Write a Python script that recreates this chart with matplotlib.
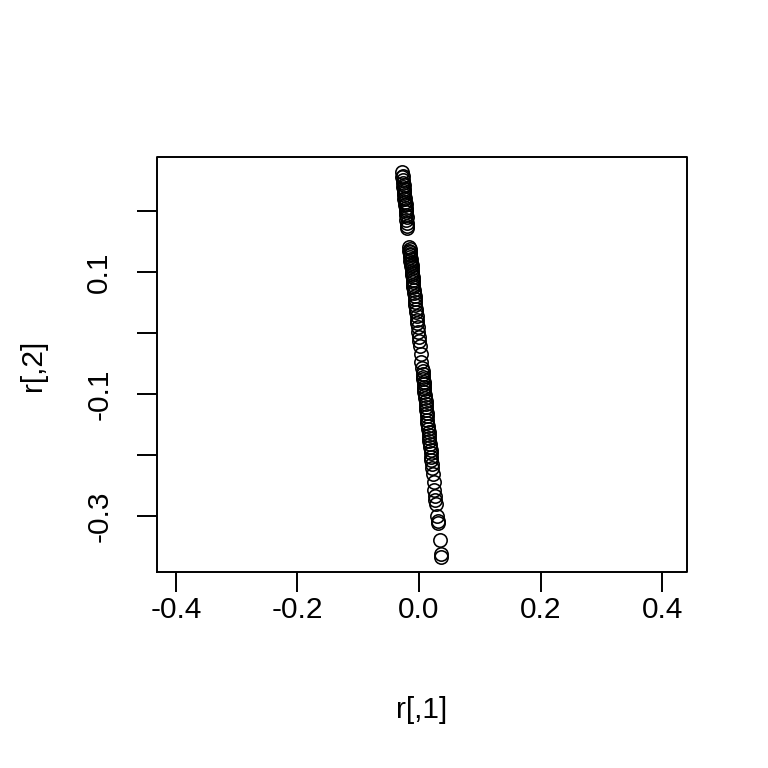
import numpy as np
from matplotlib import pyplot as plt

plt.rcParams['font.family'] = ['Liberation Sans', 'DejaVu Sans']

# r[,1] and r[,2]
r1 = [-0.028, -0.027, -0.028, -0.026, -0.026, -0.025, -0.026, -0.025, -0.024, -0.025,
      -0.024, -0.023, -0.024, -0.023, -0.022, -0.023, -0.022, -0.021, -0.022, -0.021,
      -0.020, -0.021, -0.020, -0.019, -0.019,
      -0.016, -0.015, -0.016, -0.015, -0.014, -0.015, -0.014, -0.013, -0.014, -0.013,
      -0.012, -0.013, -0.012, -0.011, -0.012, -0.011, -0.010, -0.010, -0.009, -0.010,
      -0.009, -0.008, -0.008, -0.007, -0.007, -0.006, -0.006, -0.005, -0.005, -0.004,
      -0.003, -0.003, -0.002, -0.001, 0.000, 0.000, 0.001, 0.003, 0.004,
      0.005, 0.006, 0.006, 0.007, 0.007, 0.008, 0.008, 0.009, 0.009, 0.009,
      0.010, 0.010, 0.011, 0.011, 0.012, 0.012, 0.013, 0.013, 0.014, 0.014,
      0.015, 0.015, 0.016, 0.016, 0.017, 0.017, 0.018, 0.018, 0.019, 0.019,
      0.020, 0.020, 0.021, 0.022, 0.023, 0.024, 0.025, 0.026, 0.027, 0.028,
      0.030, 0.031, 0.031, 0.034, 0.036, 0.036]
r2 = [0.264, 0.258, 0.255, 0.250, 0.246, 0.243, 0.240, 0.236, 0.232, 0.229,
      0.226, 0.222, 0.219, 0.215, 0.212, 0.209, 0.205, 0.201, 0.198, 0.194,
      0.190, 0.186, 0.181, 0.176, 0.172,
      0.141, 0.138, 0.135, 0.133, 0.130, 0.127, 0.124, 0.121, 0.118, 0.115,
      0.112, 0.109, 0.106, 0.102, 0.099, 0.095, 0.091, 0.087, 0.083, 0.079,
      0.075, 0.070, 0.066, 0.061, 0.056, 0.050, 0.045, 0.040, 0.034, 0.028,
      0.022, 0.016, 0.009, 0.002, -0.006, -0.014, -0.022, -0.035, -0.047,
      -0.058, -0.063, -0.068, -0.072, -0.076, -0.080, -0.084, -0.088, -0.092, -0.097,
      -0.102, -0.107, -0.112, -0.117, -0.122, -0.127, -0.132, -0.137, -0.142, -0.147,
      -0.152, -0.157, -0.162, -0.167, -0.172, -0.177, -0.182, -0.187, -0.192, -0.197,
      -0.203, -0.209, -0.215, -0.222, -0.232, -0.245, -0.258, -0.268, -0.274, -0.280,
      -0.300, -0.308, -0.312, -0.340, -0.362, -0.368]

xticks = [-0.4, -0.2, 0.0, 0.2, 0.4]
xlabels = ['-0.4', '-0.2', '0.0', '0.2', '0.4']
yticks = [-0.3, -0.2, -0.1, 0.0, 0.1, 0.2]
ylabels = ['-0.3', '', '-0.1', '', '0.1', '']

fig = plt.figure(figsize=(7.68, 7.68), dpi=100)
ax = fig.add_axes([157/768, 196/768, 530/768, 415/768])

ax.plot(r1, r2, 'o', mfc='none', mec='black', ms=9.6, mew=1.15)

ax.set_xlim(-0.431, 0.441)
ax.set_ylim(-0.392, 0.2885)
ax.set_xticks(xticks)
ax.set_xticklabels(xlabels)
ax.set_yticks(yticks)
ax.set_yticklabels(ylabels, rotation=90, va='center')
ax.tick_params(axis='both', length=14.5, width=1.4, labelsize=21.5)
ax.tick_params(axis='x', pad=3)
ax.tick_params(axis='y', pad=17)

# R-style box drawn separately from the axis lines
ax.spines['bottom'].set_visible(False)
ax.spines['left'].set_visible(False)
ax.spines['top'].set_visible(False)
ax.spines['right'].set_visible(False)
ax.plot([0, 1, 1, 0, 0], [0, 0, 1, 1, 0], transform=ax.transAxes,
        color='black', lw=1.4, clip_on=False)

fig.text(422/768, 1 - 710/768, 'r[,1]', ha='center', va='center', fontsize=21.5)
fig.text(33/768, 1 - 365/768, 'r[,2]', ha='center', va='center', fontsize=21.5, rotation=90)

fig.savefig('out.png', dpi=100)
